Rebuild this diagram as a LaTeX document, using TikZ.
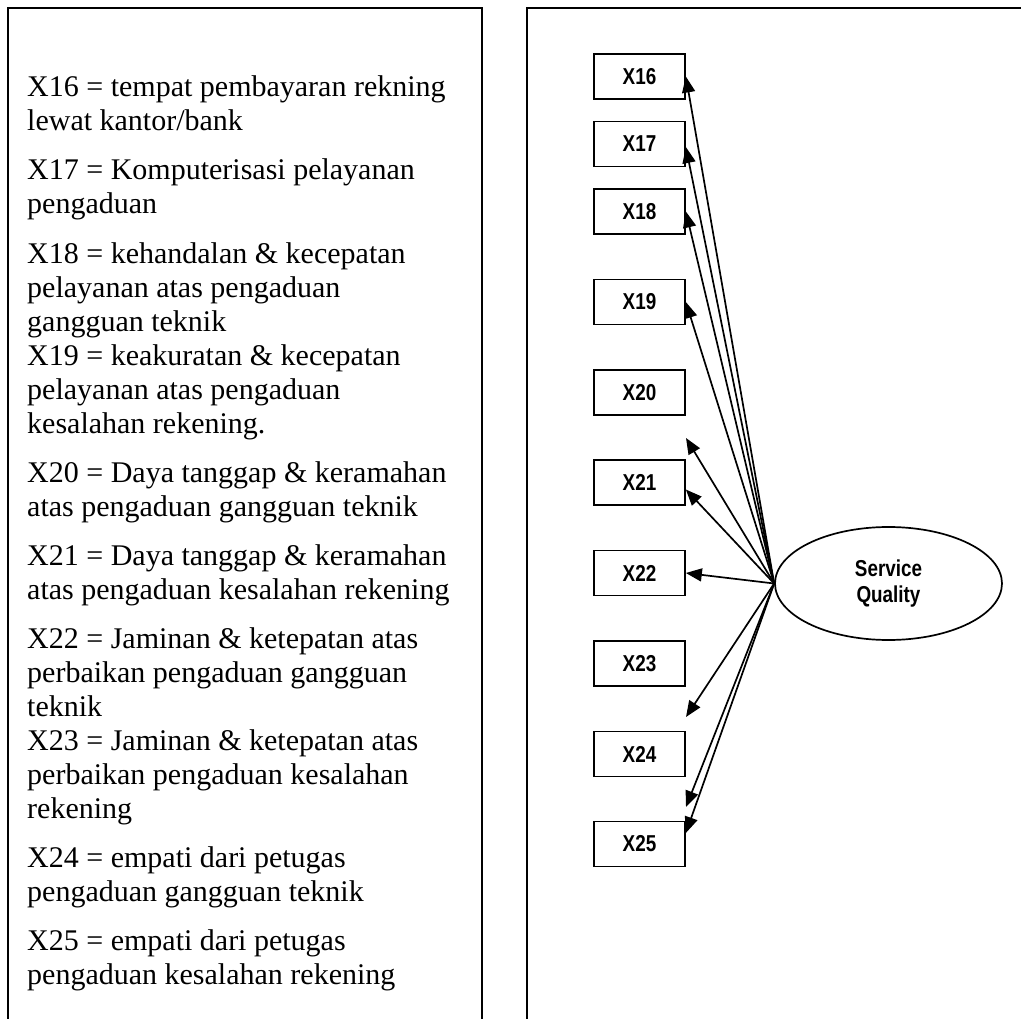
\documentclass[tikz,border=0pt]{standalone}
\usepackage{fontspec}
\setmainfont{Liberation Serif}
\newfontfamily\boxfont[FakeStretch=0.82]{Liberation Sans}
\usetikzlibrary{shapes.geometric,arrows.meta}
\begin{document}
\begin{tikzpicture}[x=1pt,y=-1pt,
  frame/.style={line width=1.8pt},
  desc/.style={anchor=base west,inner sep=0pt,align=left,font=\fontsize{30}{34}\selectfont},
  varbox/.style={draw,line width=1.7pt,minimum width=91pt,minimum height=45pt,inner sep=0pt,font=\boxfont\bfseries\fontsize{23}{26}\selectfont},
  latent/.style={draw,ellipse,line width=1.7pt,minimum width=227pt,minimum height=113pt,inner sep=0pt,align=center,font=\boxfont\bfseries\fontsize{23}{26}\selectfont},
  link/.style={line width=1.7pt,-{Triangle[length=16pt,width=13pt]}}]
\useasboundingbox (0,0) rectangle (1021,1019);
% frames
\draw[frame] (8,1030) -- (8,8) -- (482,8) -- (482,1030);
\draw[frame] (527,1030) -- (527,8) -- (1030,8);
% descriptions (anchored at the baseline of their last line)
\node[desc] (d16) at (27,131) {X16 = tempat pembayaran rekning\\lewat kantor/bank};
\node[desc] (d17) at (27,214) {X17 = Komputerisasi pelayanan\\pengaduan};
\node[desc] (d18) at (27,331) {X18 = kehandalan \& kecepatan\\pelayanan atas pengaduan\\gangguan teknik};
\node[desc] (d19) at (27,433) {X19 = keakuratan \& kecepatan\\pelayanan atas pengaduan\\kesalahan rekening.};
\node[desc] (d20) at (27,516) {X20 = Daya tanggap \& keramahan\\atas pengaduan gangguan teknik};
\node[desc] (d21) at (27,599) {X21 = Daya tanggap \& keramahan\\atas pengaduan kesalahan rekening};
\node[desc] (d22) at (27,716) {X22 = Jaminan \& ketepatan atas\\perbaikan pengaduan gangguan\\teknik};
\node[desc] (d23) at (27,818) {X23 = Jaminan \& ketepatan atas\\perbaikan pengaduan kesalahan\\rekening};
\node[desc] (d24) at (27,901) {X24 = empati dari petugas\\pengaduan gangguan teknik};
\node[desc] (d25) at (27,984) {X25 = empati dari petugas\\pengaduan kesalahan rekening};
% boxes
\node[varbox] (X16) at (639.5,76.5) {X16};
\node[varbox] (X17) at (639.5,144) {X17};
\node[varbox] (X18) at (639.5,211.5) {X18};
\node[varbox] (X19) at (639.5,302) {X19};
\node[varbox] (X20) at (639.5,392.5) {X20};
\node[varbox] (X21) at (639.5,482.5) {X21};
\node[varbox] (X22) at (639.5,573) {X22};
\node[varbox] (X23) at (639.5,663.5) {X23};
\node[varbox] (X24) at (639.5,754) {X24};
\node[varbox] (X25) at (639.5,844) {X25};
\node[latent] (SQ) at (888.5,583.5) {Service\\Quality};
% free arrow ends
\coordinate (e20) at (686,438);
\coordinate (e23) at (686,717);
\coordinate (e24) at (686,807);
% arrows
\draw[link] (SQ.west) -- (X16.east);
\draw[link] (SQ.west) -- ([yshift=-3pt]X17.east);
\draw[link] (SQ.west) -- (X18.east);
\draw[link] (SQ.west) -- (X19.east);
\draw[link] (SQ.west) -- (e20);
\draw[link] (SQ.west) -- ([yshift=-7pt]X21.east);
\draw[link] (SQ.west) -- (X22.east);
\draw[link] (SQ.west) -- (e23);
\draw[link] (SQ.west) -- (e24);
\draw[link] (SQ.west) -- ([yshift=11pt]X25.east);
\end{tikzpicture}
\end{document}
